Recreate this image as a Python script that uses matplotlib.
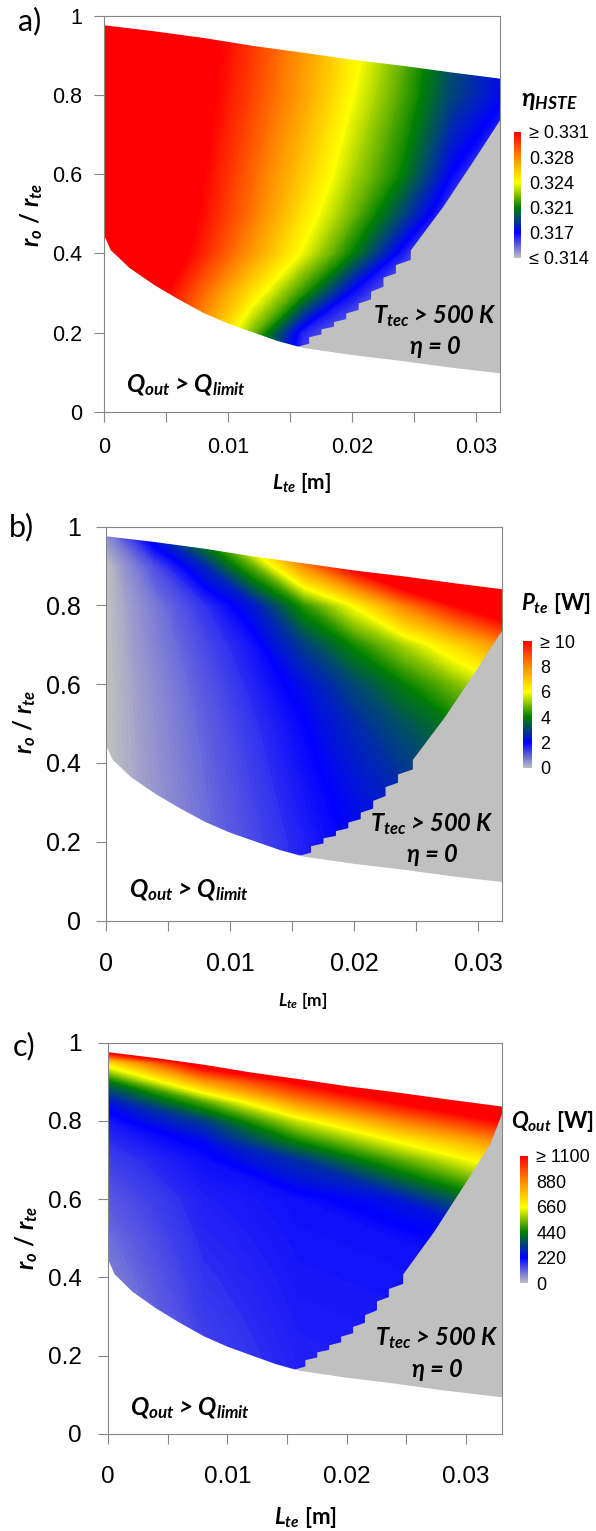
import numpy as np
import matplotlib
matplotlib.use('Agg')
import matplotlib.pyplot as plt
from matplotlib.colors import LinearSegmentedColormap, Normalize
from matplotlib.cm import ScalarMappable
from matplotlib.ticker import MultipleLocator, FuncFormatter

plt.rcParams['font.family'] = ['Liberation Sans', 'DejaVu Sans']
plt.rcParams['mathtext.fontset'] = 'custom'
plt.rcParams['mathtext.it'] = 'Lato:italic:bold'
plt.rcParams['mathtext.rm'] = 'Lato:bold'
plt.rcParams['mathtext.bf'] = 'Lato:bold'

W, H = 596, 1531
GRAY = '#c0c0c0'
AXCOL = '#868686'

# feasible domain: upper edge, Q_out > Q_limit edge, T_tec > 500 K edge
top_L = [0, 0.004, 0.008, 0.012, 0.016, 0.020, 0.024, 0.028, 0.033]
top_r = [0.977, 0.962, 0.945, 0.925, 0.908, 0.890, 0.875, 0.858, 0.838]
low_L = [0, 0.0005, 0.002, 0.004, 0.006, 0.008, 0.010, 0.012, 0.014, 0.016, 0.020, 0.024, 0.028, 0.033]
low_r = [0.445, 0.410, 0.365, 0.322, 0.285, 0.251, 0.224, 0.202, 0.180, 0.163, 0.145, 0.130, 0.113, 0.095]
tec_L = [0.0155, 0.0165, 0.0175, 0.0185, 0.0195, 0.0205, 0.0215, 0.0225, 0.0235, 0.0247, 0.0273, 0.0298, 0.032, 0.033]
tec_r = [0.165, 0.190, 0.210, 0.228, 0.250, 0.275, 0.305, 0.340, 0.372, 0.409, 0.518, 0.636, 0.742, 0.820]

# a) efficiency
eta_L = [0, 0.004, 0.008, 0.012, 0.016, 0.020, 0.024, 0.028, 0.033]
eta_r = [0.0, 0.2, 0.3, 0.4, 0.5, 0.6, 0.8, 1.0]
eta = [
    [0.3345, 0.3300, 0.3250, 0.3195, 0.3150, 0.3120, 0.3080, 0.3050, 0.3020],
    [0.3350, 0.3310, 0.3270, 0.3223, 0.3168, 0.3152, 0.3130, 0.3100, 0.3070],
    [0.3355, 0.3318, 0.3284, 0.3249, 0.3213, 0.3172, 0.3150, 0.3130, 0.3100],
    [0.3360, 0.3328, 0.3301, 0.3271, 0.3240, 0.3208, 0.3170, 0.3140, 0.3110],
    [0.3360, 0.3335, 0.3307, 0.3281, 0.3250, 0.3223, 0.3193, 0.3160, 0.3120],
    [0.3360, 0.3335, 0.3310, 0.3285, 0.3258, 0.3231, 0.3208, 0.3174, 0.3140],
    [0.3360, 0.3335, 0.3315, 0.3293, 0.3270, 0.3242, 0.3218, 0.3192, 0.3172],
    [0.3360, 0.3337, 0.3318, 0.3298, 0.3275, 0.3250, 0.3225, 0.3198, 0.3175],
]
eta_ticks = [0.314, 0.3174, 0.3208, 0.3242, 0.3276, 0.331]
eta_labels = ['\u2264 0.314', '0.317', '0.321', '0.324', '0.328', '\u2265 0.331']

# b) electrical power [W]
pte_L = [0, 0.004, 0.008, 0.012, 0.016, 0.020, 0.024, 0.028, 0.033]
pte_r = [0.1, 0.2, 0.3, 0.4, 0.5, 0.6, 0.7, 0.8, 0.9, 0.98]
pte = [
    [0, 0.42, 0.84, 1.26, 1.68, 2.10, 2.50, 2.90, 3.40],
    [0, 0.42, 0.84, 1.26, 1.68, 2.10, 2.50, 2.90, 3.40],
    [0, 0.44, 0.88, 1.33, 1.78, 2.20, 2.60, 3.00, 3.50],
    [0, 0.47, 0.94, 1.41, 1.88, 2.40, 2.90, 3.40, 4.00],
    [0, 0.50, 1.00, 1.50, 2.00, 2.63, 3.27, 3.90, 4.70],
    [0, 0.55, 1.10, 1.65, 2.25, 3.10, 3.95, 4.90, 6.20],
    [0, 0.65, 1.25, 1.85, 2.95, 4.10, 5.30, 6.60, 8.30],
    [0, 0.75, 1.50, 2.40, 4.30, 6.05, 8.15, 9.85, 11.5],
    [0, 1.20, 2.60, 4.80, 8.00, 10.4, 12.5, 14.5, 17.0],
    [0.5, 2.50, 4.50, 7.50, 11.0, 14.0, 17.0, 20.0, 23.0],
]
pte_ticks = [0, 2, 4, 6, 8, 10]
pte_labels = ['0', '2', '4', '6', '8', '\u2265 10']

# c) heat output [W]
qout_L = [0, 0.008, 0.016, 0.024, 0.033]
qout_r = [0.1, 0.2, 0.3, 0.4, 0.5, 0.6, 0.7, 0.75, 0.8, 0.85, 0.9, 0.95, 1.0]
qout = [
    [40, 135, 180, 185, 190],
    [50, 145, 185, 190, 195],
    [60, 155, 190, 195, 200],
    [75, 165, 195, 200, 205],
    [95, 175, 200, 205, 245],
    [120, 185, 205, 250, 460],
    [150, 205, 300, 500, 720],
    [170, 235, 450, 660, 890],
    [195, 320, 615, 880, 1100],
    [250, 510, 880, 1100, 1300],
    [410, 840, 1110, 1350, 1500],
    [720, 1200, 1400, 1600, 1700],
    [1500, 1600, 1700, 1850, 1900],
]
qout_ticks = [0, 220, 440, 660, 880, 1100]
qout_labels = ['0', '220', '440', '660', '880', '\u2265 1100']

cmap = LinearSegmentedColormap.from_list(
    'spec', [GRAY, '#0000ff', '#008000', '#ffff00', '#ff8c00', '#ff0000'])

BI = dict(family=['Lato', 'DejaVu Sans'], weight='bold', style='italic')
BOLD = dict(family=['Lato', 'DejaVu Sans'], weight='bold')

panels = [
    dict(letter='a)', letter_xy=(30, 21), box=(104, 15.7, 500.3, 412), xmax=0.03196,
         L=eta_L, R=eta_r, Z=eta, vmin=0.314, vmax=0.331, ticks=eta_ticks, labels=eta_labels,
         cbox=(514, 132, 521, 258), ctitle=r'$\eta_{HSTE}$', ctitle_xy=(549, 101), ctitle_fs=18,
         tick_fs=15.5, xpad=10.5, ypad=8.6, xlabel_xy=(301, 483), xlabel_fs=15,
         ylabel_xy=(32, 215), q_xy=(0.0066, 0.068), t_xy=(0.0267, 0.242), e_xy=(0.0267, 0.165)),
    dict(letter='b)', letter_xy=(21, 527), box=(105.8, 526.7, 501.7, 920.5), xmax=0.0319,
         L=pte_L, R=pte_r, Z=pte, vmin=0, vmax=10, ticks=pte_ticks, labels=pte_labels,
         cbox=(523, 641, 532, 768), ctitle=r'$P_{te}$ [W]', ctitle_xy=(556, 604), ctitle_fs=16,
         tick_fs=18, xpad=15.5, ypad=10.6, xlabel_xy=(303, 1001), xlabel_fs=12.5,
         ylabel_xy=(25, 722), q_xy=(0.0067, 0.078), t_xy=(0.0263, 0.245), e_xy=(0.0263, 0.168)),
    dict(letter='c)', letter_xy=(24, 1046), box=(108, 1042.7, 501.7, 1434), xmax=0.033,
         L=qout_L, R=qout_r, Z=qout, vmin=0, vmax=1100, ticks=qout_ticks, labels=qout_labels,
         cbox=(520, 1156, 528, 1283), ctitle=r'$Q_{out}$ [W]', ctitle_xy=(552, 1122), ctitle_fs=16,
         tick_fs=17.5, xpad=15.8, ypad=11.5, xlabel_xy=(305, 1517), xlabel_fs=16,
         ylabel_xy=(27, 1238), q_xy=(0.0069, 0.066), t_xy=(0.0276, 0.245), e_xy=(0.0276, 0.166)),
]


def frac_box(l, t, r, b):
    return [l / W, 1 - b / H, (r - l) / W, (b - t) / H]


def fxy(x, y):
    return x / W, 1 - y / H


fig = plt.figure(figsize=(W / 100, H / 100), dpi=100)

# saw-toothed lower part of the temperature limit, smooth upper part
edge_x, edge_y = [], []
for i in range(9):
    edge_x += [tec_L[i], tec_L[i + 1]]
    edge_y += [tec_r[i], tec_r[i] + 0.35 * (tec_r[i + 1] - tec_r[i])]
edge_x += tec_L[9:]
edge_y += tec_r[9:]

for p in panels:
    ax = fig.add_axes(frac_box(*p['box']))
    norm = Normalize(p['vmin'], p['vmax'])
    levels = np.linspace(p['vmin'], p['vmax'], 241)
    ax.contourf(p['L'], p['R'], np.array(p['Z'], dtype=float), levels=levels,
                cmap=cmap, norm=norm, extend='both')
    ax.fill_between(edge_x, 0, edge_y, color=GRAY, lw=0)
    ax.fill_between(low_L, 0, low_r, color='white', lw=0)
    ax.fill_between(top_L, top_r, 1.05, color='white', lw=0)

    ax.set_xlim(0, p['xmax'])
    ax.set_ylim(0, 1)
    ax.xaxis.set_major_locator(MultipleLocator(0.01))
    ax.xaxis.set_minor_locator(MultipleLocator(0.005))
    ax.yaxis.set_major_locator(MultipleLocator(0.2))
    ax.xaxis.set_major_formatter(FuncFormatter(lambda v, pos: f'{v:g}'))
    ax.yaxis.set_major_formatter(FuncFormatter(lambda v, pos: f'{v:g}'))
    ax.tick_params(which='both', direction='out', length=7.2, width=0.8, color=AXCOL,
                   labelsize=p['tick_fs'])
    ax.tick_params(axis='x', which='major', pad=p['xpad'])
    ax.tick_params(axis='y', pad=p['ypad'])
    for s in ax.spines.values():
        s.set_color(AXCOL)
        s.set_linewidth(0.8)

    ax.text(*p['q_xy'], r'$Q_{out}$ > $Q_{limit}$', ha='center', va='center', fontsize=17.5, **BI)
    ax.text(*p['t_xy'], r'$T_{tec}$ > 500 K', ha='center', va='center', fontsize=17, **BI)
    ax.text(*p['e_xy'], '\u03b7 = 0', ha='center', va='center', fontsize=17, **BI)

    fig.text(*fxy(*p['letter_xy']), p['letter'], ha='center', va='center', fontsize=22,
             family=['Lato', 'DejaVu Sans'])
    fig.text(*fxy(*p['xlabel_xy']), r'$L_{te}$ [m]', ha='center', va='center',
             fontsize=p['xlabel_fs'], **BOLD)
    fig.text(*fxy(*p['ylabel_xy']), r'$r_o$ / $r_{te}$', ha='center', va='center',
             rotation=90, fontsize=17, **BOLD)

    cax = fig.add_axes(frac_box(*p['cbox']))
    cb = fig.colorbar(ScalarMappable(norm=norm, cmap=cmap), cax=cax, ticks=p['ticks'])
    cb.outline.set_visible(False)
    cb.set_ticklabels(p['labels'])
    cax.tick_params(length=0, pad=6, labelsize=13)
    fig.text(*fxy(*p['ctitle_xy']), p['ctitle'], ha='center', va='center',
             fontsize=p['ctitle_fs'], **BOLD)

fig.savefig('out.png', dpi=100)
